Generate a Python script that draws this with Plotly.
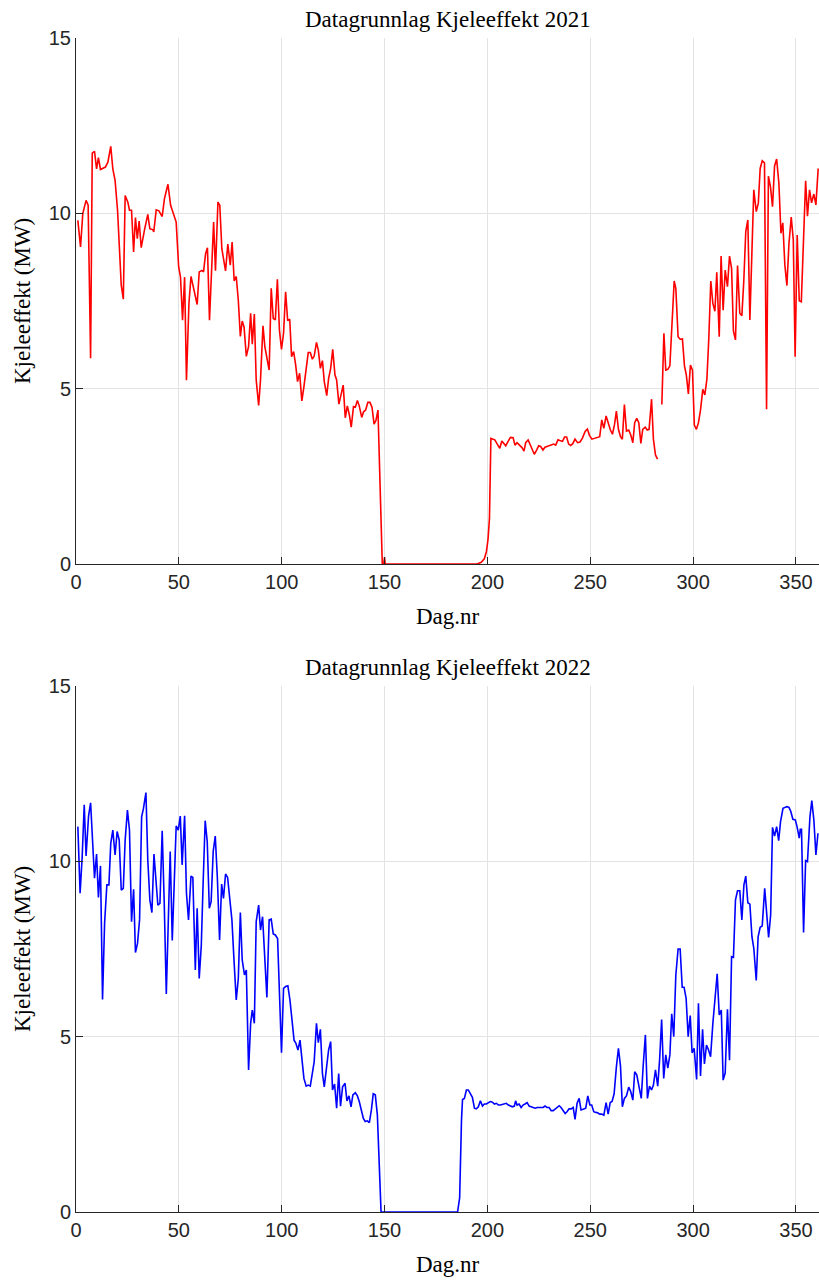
import plotly.graph_objects as go

# ---------------- data ----------------
days_2021 = [0.9, 2.2, 3.3, 4.9, 5.9, 7.1, 7.9, 9.0, 10.0, 10.9, 11.9, 14.3, 15.5, 16.9, 17.9, 19.0, 20.2, 21.2, 22.0, 23.0,
             23.9, 25.2, 26.0, 27.0, 28.0, 28.9, 29.8, 30.7, 31.7, 33.3, 34.9, 35.9, 37.4, 37.8, 39.0, 40.3, 41.9, 43.0, 44.7, 46.0,
             48.7, 49.9, 50.8, 51.8, 52.8, 53.7, 54.9, 55.9, 57.1, 57.8, 58.9, 59.9, 61.2, 62.0, 63.0, 63.9, 64.9, 66.9, 67.8, 69.0,
             69.9, 70.9, 72.7, 73.8, 75.0, 75.9, 76.9, 77.9, 78.9, 79.9, 80.8, 81.7, 82.8, 83.9, 84.9, 85.7, 86.7, 87.6, 88.8, 89.7,
             90.9, 91.8, 92.8, 93.9, 94.9, 95.9, 96.9, 97.9, 98.9, 99.9, 100.9, 101.9, 102.9, 103.9, 104.8, 105.8, 106.8, 107.7, 108.7, 109.8,
             110.8, 111.9, 112.9, 113.9, 114.9, 115.8, 116.9, 117.8, 118.8, 119.8, 120.7, 121.9, 122.8, 123.8, 124.8, 125.9, 126.7, 127.8, 128.8, 129.9,
             130.9, 131.9, 132.9, 133.8, 134.9, 135.8, 136.8, 137.7, 138.9, 139.8, 140.8, 141.9, 142.9, 143.9, 144.9, 145.8, 146.8, 147.9, 148.9, 149.6,
             150.0, 150.3, 195.0, 197.0, 198.5, 199.5, 200.3, 201.0, 201.7, 203.6, 204.7, 206.0, 207.0, 208.0, 208.9, 210.0, 211.2, 212.5, 213.4, 214.4,
             215.7, 216.8, 217.8, 218.6, 219.8, 220.9, 221.9, 222.8, 223.8, 224.9, 225.9, 227.0, 228.0, 229.0, 230.0, 231.1, 232.2, 233.2, 234.3, 235.2,
             236.5, 237.5, 238.5, 239.5, 240.5, 241.5, 242.6, 243.8, 245.0, 246.2, 247.5, 248.6, 249.6, 250.8, 252.5, 254.6, 255.6, 256.6, 257.7, 258.7,
             259.8, 260.8, 261.8, 262.7, 263.7, 264.7, 265.6, 266.6, 267.6, 268.7, 269.7, 270.7, 271.6, 272.6, 273.6, 274.6, 275.5, 276.7, 277.7, 278.6,
             279.8, 280.7, 281.7, 282.7, 283.7, 284.8, 285.8, 286.7, 287.7, 288.7, 289.8, 290.8, 291.6, 292.7, 293.7, 294.8, 295.8, 296.7, 297.7, 298.7,
             299.7, 300.6, 301.6, 302.6, 303.6, 304.7, 305.7, 306.7, 307.6, 308.6, 309.6, 310.6, 311.5, 312.7, 313.6, 314.6, 315.6, 316.7, 317.7, 318.7,
             319.6, 320.6, 321.6, 322.7, 323.7, 324.6, 325.6, 326.6, 327.6, 328.6, 329.5, 330.7, 331.7, 332.6, 333.6, 334.7, 335.7, 336.6, 337.6, 338.6,
             339.6, 340.6, 341.7, 342.7, 343.6, 344.6, 345.6, 346.6, 347.7, 348.7, 349.6, 350.6, 351.6, 352.6, 353.7, 354.7, 355.6, 356.6, 357.6, 358.7,
             359.7, 360.8]
effekt_2021 = [9.8, 9.04, 9.99, 10.37, 10.23, 5.87, 11.72, 11.77, 11.27, 11.59, 11.25, 11.32, 11.46, 11.91, 11.27, 10.94, 10.09, 8.75, 7.95, 7.55,
               10.51, 10.32, 10.09, 10.09, 8.9, 9.88, 9.28, 9.78, 9.02, 9.53, 9.97, 9.56, 9.53, 9.47, 10.1, 10.07, 9.91, 10.42, 10.83, 10.23,
               9.75, 8.47, 8.18, 6.95, 8.18, 5.24, 7.43, 8.2, 7.9, 7.76, 7.4, 8.33, 8.37, 8.33, 8.85, 9.02, 6.95, 9.75, 8.36, 10.32,
               10.23, 8.99, 8.36, 9.12, 8.52, 9.18, 8.07, 8.2, 7.52, 6.49, 6.93, 6.76, 5.92, 6.2, 7.15, 6.27, 7.13, 5.25, 4.52, 5.25,
               6.79, 6.2, 5.82, 5.53, 7.86, 7.0, 6.96, 8.12, 6.67, 6.12, 6.58, 7.76, 6.94, 6.98, 5.91, 6.06, 5.67, 5.2, 5.44, 4.65,
               5.06, 5.63, 6.03, 6.03, 5.84, 5.93, 6.32, 6.1, 5.58, 5.8, 5.2, 4.8, 5.29, 5.58, 6.12, 5.39, 5.25, 4.56, 4.87, 5.1,
               4.17, 4.51, 4.25, 3.9, 4.49, 4.47, 4.66, 4.51, 4.18, 4.34, 4.39, 4.61, 4.61, 4.47, 3.99, 4.09, 4.39, 1.73, 0.0, 0.0,
               0.2, 0.0, 0.0, 0.05, 0.15, 0.35, 0.7, 1.3, 3.58, 3.54, 3.44, 3.3, 3.51, 3.44, 3.37, 3.49, 3.61, 3.6, 3.39, 3.46,
               3.39, 3.32, 3.22, 3.46, 3.54, 3.37, 3.22, 3.13, 3.23, 3.37, 3.35, 3.25, 3.33, 3.35, 3.38, 3.39, 3.42, 3.39, 3.54, 3.52,
               3.5, 3.62, 3.62, 3.42, 3.38, 3.43, 3.56, 3.46, 3.48, 3.59, 3.78, 3.85, 3.67, 3.56, 3.59, 3.63, 4.11, 3.87, 4.22, 4.01,
               3.82, 3.7, 3.98, 4.36, 3.84, 3.63, 3.56, 4.55, 3.79, 3.82, 3.68, 3.46, 4.03, 4.15, 4.03, 3.44, 3.84, 3.9, 3.82, 3.84,
               4.7, 3.56, 3.11, 2.99, None, 4.55, 6.58, 5.53, 5.55, 5.65, 7.05, 8.07, 7.86, 6.48, 6.41, 6.42, 5.65, 5.39, 4.85, 5.67,
               5.53, 3.96, 3.84, 4.03, 4.39, 4.98, 4.82, 5.27, 6.39, 8.07, 7.43, 7.21, 8.32, 6.48, 8.78, 7.24, 8.38, 7.91, 8.78, 8.43,
               6.64, 6.39, 8.51, 7.15, 7.08, 8.02, 9.48, 9.81, 6.96, 9.24, 10.67, 10.05, 10.29, 11.28, 11.5, 11.44, 4.41, 11.06, 10.76, 10.19,
               11.35, 11.55, 10.86, 9.43, 9.73, 8.53, 7.94, 9.14, 9.89, 9.24, 5.91, 9.38, 7.51, 7.48, 9.38, 10.93, 9.92, 10.67, 10.3, 10.55,
               10.24, 11.28]

days_2022 = [0.9, 2.0, 3.0, 4.0, 4.9, 6.1, 7.1, 8.0, 9.0, 10.0, 10.9, 11.9, 12.9, 13.9, 15.0, 16.0, 16.9, 17.9, 19.0, 20.0,
             21.0, 22.0, 23.0, 23.9, 25.0, 26.0, 27.0, 28.0, 28.9, 29.9, 30.9, 31.9, 32.8, 34.0, 34.9, 35.9, 36.9, 37.9, 38.8, 39.8,
             40.8, 41.9, 42.9, 43.9, 44.8, 45.8, 46.8, 47.7, 48.7, 49.7, 50.7, 51.6, 52.8, 53.7, 54.7, 55.9, 56.8, 58.0, 58.9, 59.9,
             60.9, 61.8, 62.8, 63.8, 64.8, 65.7, 66.7, 67.7, 68.7, 69.8, 70.8, 71.7, 72.7, 73.7, 74.7, 75.8, 76.8, 77.9, 78.9, 79.9,
             80.8, 81.9, 82.8, 83.9, 84.9, 85.7, 86.7, 87.6, 88.8, 89.7, 90.7, 91.7, 92.8, 93.9, 94.9, 95.9, 96.9, 98.0, 99.0, 99.9,
             100.9, 101.9, 103.0, 104.0, 105.0, 106.0, 106.9, 107.9, 108.9, 109.8, 110.8, 111.9, 112.9, 113.9, 114.9, 115.8, 116.9, 117.8, 118.8, 119.8,
             120.7, 121.7, 122.8, 123.8, 124.7, 125.7, 126.7, 127.7, 128.6, 129.6, 130.8, 131.7, 132.7, 133.7, 134.6, 135.8, 136.8, 137.7, 138.7, 139.7,
             140.6, 141.6, 142.6, 143.6, 144.5, 145.5, 146.5, 147.5, 148.3, 185.5, 186.5, 187.4, 187.9, 188.8, 189.8, 190.7, 191.7, 192.7, 193.7,
             194.6, 195.6, 196.6, 197.6, 198.5, 199.5, 200.5, 201.4, 202.4, 203.4, 204.4, 205.3, 206.3, 207.3, 208.3, 209.2, 210.2, 211.2, 212.1, 213.1,
             213.7, 214.4, 215.4, 216.4, 217.3, 218.3, 219.3, 220.3, 221.2, 222.2, 223.2, 224.2, 225.1, 226.1, 227.1, 228.0, 229.0, 230.0, 231.0, 232.0,
             232.9, 233.9, 234.9, 235.8, 236.8, 237.8, 238.7, 239.7, 240.7, 241.7, 242.6, 243.6, 244.6, 245.5, 246.5, 247.8, 248.8, 249.8, 250.7, 251.7,
             252.7, 253.6, 254.6, 255.6, 256.6, 257.7, 258.7, 259.7, 260.6, 261.6, 262.7, 263.7, 264.7, 265.6, 266.6, 267.6, 268.7, 269.7, 270.7, 271.6,
             272.6, 273.6, 274.8, 275.7, 276.8, 277.8, 278.8, 279.8, 280.7, 281.7, 282.8, 283.7, 284.7, 285.7, 286.7, 287.7, 288.7, 289.6, 290.6, 291.6,
             292.7, 293.7, 294.7, 295.6, 296.6, 297.6, 298.6, 299.5, 300.5, 301.7, 302.6, 303.6, 304.6, 305.5, 306.5, 307.5, 308.5, 309.6, 310.8, 311.7,
             312.7, 313.7, 314.6, 315.6, 316.7, 317.7, 318.7, 319.6, 320.6, 321.6, 322.7, 323.7, 324.7, 325.6, 326.6, 327.6, 328.6, 329.5, 330.7, 331.6,
             332.6, 333.6, 334.8, 335.7, 336.7, 337.7, 338.6, 339.6, 340.6, 341.6, 342.5, 343.7, 344.6, 345.6, 346.6, 347.5, 348.5, 349.7, 350.6, 351.6,
             352.1, 352.7, 353.7, 354.7, 355.6, 356.8, 357.7, 358.7, 359.7, 360.7]
effekt_2022 = [10.99, 9.09, 10.13, 11.61, 10.15, 11.29, 11.67, 10.66, 9.52, 10.21, 8.97, 9.87, 6.06, 8.23, 9.33, 9.33, 10.51, 10.89, 10.18, 10.85,
               10.61, 9.18, 9.23, 10.61, 11.46, 10.89, 8.28, 9.2, 7.4, 7.66, 8.33, 11.27, 11.51, 11.96, 10.04, 8.9, 8.54, 10.21, 9.56, 8.75,
               8.8, 10.87, 8.8, 6.22, 8.14, 10.28, 7.74, 9.47, 11.01, 10.89, 11.29, 9.9, 11.3, 9.09, 8.33, 9.58, 9.54, 6.9, 8.66, 6.66,
               7.59, 9.37, 11.16, 10.56, 8.66, 8.85, 10.28, 10.72, 9.56, 7.76, 9.35, 8.94, 9.64, 9.54, 8.99, 8.33, 7.19, 6.05, 6.66, 8.54,
               7.19, 6.76, 6.9, 4.05, 5.38, 5.76, 5.38, 8.28, 8.75, 8.04, 8.42, 7.23, 6.12, 8.33, 8.35, 7.93, 7.9, 7.8, 6.14, 4.54,
               6.38, 6.43, 6.45, 6.05, 5.48, 4.9, 4.81, 4.62, 4.9, 4.33, 3.81, 3.59, 3.62, 3.59, 3.95, 4.29, 5.38, 4.83, 5.21, 3.95,
               3.57, 4.1, 4.62, 4.86, 3.48, 3.65, 2.96, 3.95, 3.02, 3.57, 3.67, 3.17, 3.31, 3.0, 3.34, 3.4, 3.31, 3.15, 2.91, 2.67,
               2.58, 2.6, 2.55, 2.91, 3.37, 3.34, 2.77, 1.48, 0.0, 0.0, 0.4, 2.62, 3.21, 3.24, 3.48, 3.48, 3.38, 3.27, 2.96,
               2.94, 3.0, 3.17, 3.02, 3.08, 3.08, 3.12, 3.15, 3.13, 3.08, 3.1, 3.05, 3.05, 3.07, 3.1, 3.1, 3.05, 3.02, 3.0, 3.02,
               3.17, 3.05, 3.08, 2.98, 3.05, 3.08, 3.12, 3.02, 3.0, 2.98, 2.96, 2.98, 2.98, 2.98, 2.98, 3.02, 2.98, 2.98, 2.89, 2.89,
               2.93, 2.98, 3.03, 2.98, 2.89, 2.81, 2.86, 2.94, 2.94, 2.98, 2.64, 3.1, 3.24, 2.91, 2.93, 2.96, 3.31, 3.05, 3.05, 2.86,
               2.84, 2.83, 2.79, 2.79, 2.76, 3.12, 2.79, 3.12, 3.15, 3.37, 4.14, 4.67, 4.16, 3.0, 3.24, 3.31, 3.56, 3.43, 3.19, 4.0,
               3.91, 3.62, 3.24, 4.14, 5.05, 3.24, 3.59, 3.48, 3.62, 4.05, 3.59, 4.33, 5.49, 3.81, 4.48, 4.1, 4.48, 5.65, 5.0, 6.76,
               7.5, 7.5, 6.41, 6.41, 6.09, 5.0, 5.6, 4.54, 4.67, 3.78, 5.95, 3.88, 5.21, 4.22, 4.76, 4.62, 4.43, 5.38, 6.14, 6.79,
               5.62, 5.76, 3.76, 3.97, 5.78, 4.33, 7.28, 7.26, 8.9, 9.16, 9.16, 8.33, 9.33, 9.58, 8.82, 8.78, 7.85, 7.52, 6.6, 7.85,
               8.12, 8.16, 9.23, 8.61, 7.83, 8.47, 10.97, 10.72, 10.99, 10.59, 11.13, 11.51, 11.54, 11.56, 11.54, 11.42, 11.2, 11.18, 10.97, 10.66,
               10.91, 10.91, 7.97, 10.02, 9.99, 11.27, 11.73, 11.18, 10.18, 10.8]

x_ticks = [0, 50, 100, 150, 200, 250, 300, 350]
y_ticks = [0, 5, 10, 15]
titles = ["Datagrunnlag Kjeleeffekt 2021", "Datagrunnlag Kjeleeffekt 2022"]
x_label = "Dag.nr"
y_label = "Kjeleeffekt (MW)"

# ---------------- figure ----------------
W, H = 819, 1280
ML, MR, MT, MB = 76, 0, 38, 68
plot_h = H - MT - MB
top_dom = [(H - MB - 564) / plot_h, 1.0]
bot_dom = [0.0, (H - MB - 686) / plot_h]

fig = go.Figure()
fig.add_trace(go.Scatter(x=days_2021, y=effekt_2021, mode="lines",
                         line=dict(color="#ff0000", width=1.6), xaxis="x", yaxis="y",
                         connectgaps=False, showlegend=False))
fig.add_trace(go.Scatter(x=days_2022, y=effekt_2022, mode="lines",
                         line=dict(color="#0000ff", width=1.6), xaxis="x2", yaxis="y2",
                         connectgaps=False, showlegend=False))

tickfont = dict(family="Liberation Sans, Arial, sans-serif", size=20, color="#262626")
xcommon = dict(range=[0, 361.2], tickvals=x_ticks, showline=True, linecolor="#262626", linewidth=1,
               ticks="inside", ticklen=7, tickcolor="#262626", showgrid=True, gridcolor="#e3e3e3",
               gridwidth=1, zeroline=False, tickfont=tickfont, mirror=False)
ycommon = dict(range=[0, 15], tickvals=y_ticks, showline=True, linecolor="#262626", linewidth=1,
               ticks="inside", ticklen=7, tickcolor="#262626", showgrid=True, gridcolor="#e3e3e3",
               gridwidth=1, zeroline=False, tickfont=tickfont, mirror=False)

fig.update_layout(
    width=W, height=H, margin=dict(l=ML, r=MR, t=MT, b=MB),
    paper_bgcolor="white", plot_bgcolor="white",
    xaxis=dict(domain=[0, 1], anchor="y", **xcommon),
    yaxis=dict(domain=top_dom, anchor="x", **ycommon),
    xaxis2=dict(domain=[0, 1], anchor="y2", **xcommon),
    yaxis2=dict(domain=bot_dom, anchor="x2", **ycommon),
)

serif = dict(family="Liberation Serif, Times New Roman, serif", size=23, color="#000000")
ann = []
for title, dom in zip(titles, [top_dom, bot_dom]):
    ann.append(dict(text=title, x=0.5, xref="paper", y=dom[1], yref="paper", yanchor="middle",
                    yshift=19, showarrow=False, font=serif))
    ann.append(dict(text=x_label, x=0.5, xref="paper", y=dom[0], yref="paper", yanchor="middle",
                    yshift=-52, showarrow=False, font=serif))
    ann.append(dict(text=y_label, x=0, xref="paper", xshift=-54, y=(dom[0] + dom[1]) / 2, yref="paper",
                    xanchor="center", yanchor="middle", textangle=-90, showarrow=False, font=serif))
fig.update_layout(annotations=ann)

fig.write_html("out.html", config={"displayModeBar": False},
               post_script="document.body.style.margin='0';document.body.style.overflow='hidden';")
